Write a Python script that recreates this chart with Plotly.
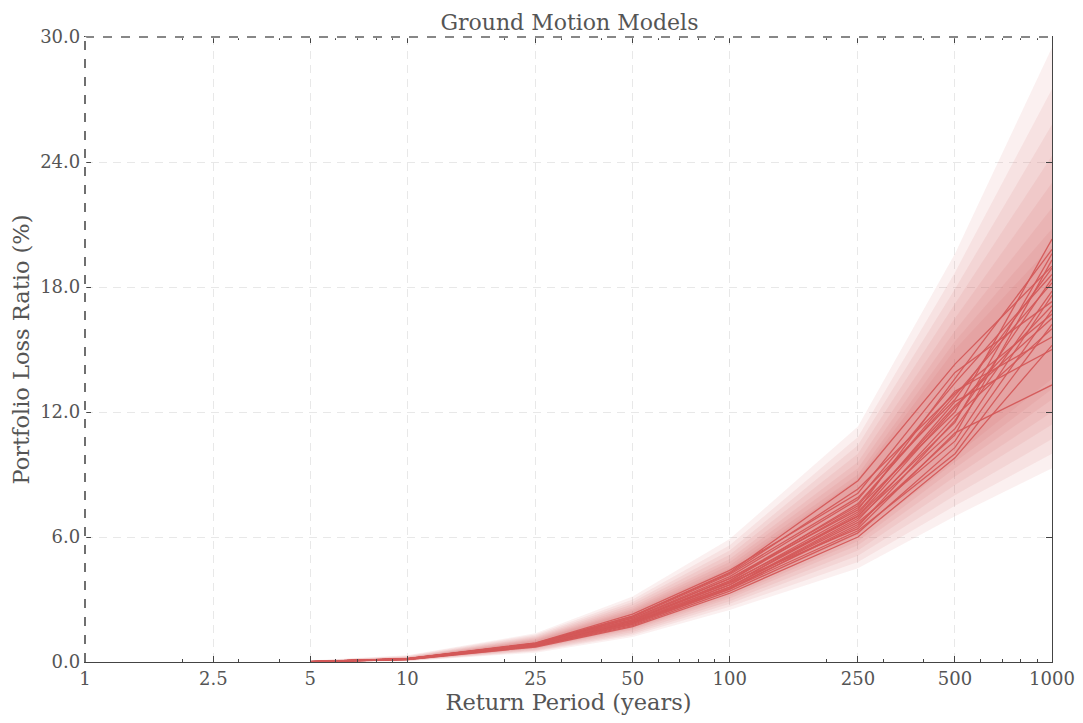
import plotly.graph_objects as go

# Return periods (years)
return_periods = [5, 10, 25, 50, 100, 250, 500, 1000]

# Loss ratio curves (%) for each ground motion model
gmm_curves = [
    [0.02, 0.15, 0.85, 2.00, 3.90, 7.4, 12.0, 20.3],
    [0.02, 0.16, 0.90, 2.20, 4.30, 8.7, 14.3, 19.0],
    [0.02, 0.14, 0.80, 1.90, 3.70, 7.0, 11.5, 19.6],
    [0.02, 0.15, 0.88, 2.10, 4.10, 7.8, 13.4, 18.6],
    [0.01, 0.13, 0.78, 1.80, 3.50, 6.6, 10.9, 19.3],
    [0.02, 0.15, 0.86, 2.00, 3.90, 7.6, 12.8, 18.2],
    [0.01, 0.14, 0.82, 1.90, 3.60, 6.9, 11.2, 17.8],
    [0.02, 0.16, 0.92, 2.30, 4.40, 8.1, 13.9, 17.3],
    [0.01, 0.12, 0.75, 1.75, 3.40, 6.2, 10.3, 16.9],
    [0.02, 0.15, 0.85, 2.00, 3.80, 7.2, 12.3, 16.5],
    [0.01, 0.13, 0.78, 1.85, 3.60, 6.8, 11.8, 16.0],
    [0.02, 0.15, 0.87, 2.10, 4.00, 7.5, 13.0, 15.6],
    [0.01, 0.12, 0.72, 1.70, 3.30, 6.0, 9.8, 15.2],
    [0.02, 0.14, 0.83, 1.95, 3.70, 7.1, 12.5, 15.0],
    [0.02, 0.15, 0.84, 2.00, 3.80, 6.4, 11.0, 13.3],
    [0.01, 0.13, 0.80, 1.90, 3.60, 6.7, 10.6, 17.6],
    [0.02, 0.16, 0.88, 2.15, 4.20, 7.9, 12.6, 18.9],
    [0.01, 0.14, 0.80, 1.85, 3.50, 6.3, 10.0, 16.2],
    [0.02, 0.15, 0.86, 2.05, 4.00, 7.3, 13.6, 19.8],
    [0.01, 0.13, 0.79, 1.85, 3.55, 6.5, 11.6, 18.4],
    [0.02, 0.15, 0.84, 2.00, 3.85, 7.0, 12.2, 17.1],
    [0.02, 0.16, 0.89, 2.20, 4.25, 8.3, 12.9, 16.7],
]

# Envelope bands of the sampled curves (low, high), outermost first
band_lows = [
    [0.0, 0.04, 0.45, 1.20, 2.50, 4.50, 7.0, 9.3],
    [0.0, 0.05, 0.50, 1.28, 2.65, 4.80, 7.5, 10.0],
    [0.0, 0.06, 0.54, 1.36, 2.80, 5.10, 8.0, 10.7],
    [0.0, 0.07, 0.58, 1.44, 2.92, 5.35, 8.5, 11.4],
    [0.0, 0.08, 0.62, 1.52, 3.05, 5.60, 8.9, 12.0],
    [0.0, 0.09, 0.66, 1.58, 3.15, 5.80, 9.3, 12.6],
    [0.0, 0.10, 0.69, 1.64, 3.25, 6.00, 9.6, 13.1],
    [0.0, 0.11, 0.72, 1.70, 3.35, 6.10, 9.9, 13.6],
]
band_highs = [
    [0.070, 0.32, 1.38, 3.15, 5.90, 11.3, 19.6, 29.5],
    [0.065, 0.30, 1.32, 3.00, 5.60, 10.8, 18.7, 27.5],
    [0.060, 0.27, 1.26, 2.88, 5.35, 10.4, 17.9, 25.8],
    [0.055, 0.25, 1.20, 2.77, 5.15, 10.0, 17.2, 24.3],
    [0.050, 0.23, 1.15, 2.66, 4.95, 9.6, 16.5, 23.0],
    [0.045, 0.21, 1.10, 2.57, 4.80, 9.3, 15.9, 21.8],
    [0.040, 0.20, 1.06, 2.50, 4.65, 9.0, 15.4, 20.8],
    [0.035, 0.19, 1.02, 2.42, 4.50, 8.8, 15.0, 20.0],
]

x_ticks = [1, 2.5, 5, 10, 25, 50, 100, 250, 500, 1000]
x_ticktext = ["1", "2.5", "5", "10", "25", "50", "100", "250", "500", "1000"]
y_ticks = [0, 6, 12, 18, 24, 30]

minor_x = [2, 3, 4, 6, 7, 8, 9, 20, 30, 40, 60, 70, 80, 90, 200, 300, 400, 600, 700, 800, 900]

fig = go.Figure()

for lo, hi in zip(band_lows, band_highs):
    fig.add_trace(go.Scatter(x=return_periods, y=lo, mode="lines",
                             line=dict(width=0), hoverinfo="skip", showlegend=False))
    fig.add_trace(go.Scatter(x=return_periods, y=hi, mode="lines",
                             line=dict(width=0), fill="tonexty",
                             fillcolor="rgba(214,92,92,0.09)",
                             hoverinfo="skip", showlegend=False))

for c in gmm_curves:
    fig.add_trace(go.Scatter(x=return_periods, y=c, mode="lines",
                             line=dict(color="rgba(212,88,88,0.95)", width=1.3),
                             showlegend=False))

font_family = "DejaVu Serif"
# The page body has an 8px margin; size the figure so the plot lands where the reference has it.
fig.update_layout(
    width=1067, height=707,
    paper_bgcolor="white", plot_bgcolor="white",
    margin=dict(l=77, r=23, t=29, b=53, autoexpand=False),
    font=dict(family=font_family, color="#555555", size=18),
    title=dict(text="Ground Motion Models", x=0.5262, xanchor="center",
               y=0.980, yanchor="middle", yref="container",
               font=dict(size=22, color="#555555")),
)
fig.update_xaxes(
    type="log", range=[0, 3], automargin=False,
    tickvals=x_ticks, ticktext=x_ticktext,
    ticks="inside", ticklen=6, tickcolor="#444444",
    showline=True, linecolor="#444444", linewidth=1.3, mirror="ticks",
    showgrid=True, gridcolor="#e8e8e8", griddash="8px,6px", gridwidth=1.2,
    minor=dict(tickvals=minor_x, ticks="inside", ticklen=3, tickcolor="#444444", showgrid=False),
    title=dict(text="Return Period (years)", font=dict(size=22.5, color="#555555"), standoff=8),
    tickfont=dict(size=18, color="#555555"),
    zeroline=False,
)
fig.update_yaxes(
    range=[0, 30], tickvals=y_ticks, tickformat=".1f", automargin=False,
    ticks="inside", ticklen=6, tickcolor="#444444",
    showline=True, linecolor="#444444", linewidth=1.3, mirror="ticks",
    showgrid=True, gridcolor="#e8e8e8", griddash="8px,6px", gridwidth=1.2,
    title=dict(text="Portfolio Loss Ratio (%)", font=dict(size=22.5, color="#555555"), standoff=4),
    tickfont=dict(size=18, color="#555555"),
    zeroline=False,
)

# Dashed top and left borders
for x0, y0, x1, y1 in [(0, 1, 1, 1), (0, 0, 0, 1)]:
    fig.add_shape(type="line", xref="x domain", yref="y domain",
                  x0=x0, y0=y0, x1=x1, y1=y1,
                  line=dict(color="white", width=2.5), layer="above")
    fig.add_shape(type="line", xref="x domain", yref="y domain",
                  x0=x0, y0=y0, x1=x1, y1=y1,
                  line=dict(color="#111111", width=1.2, dash="dash"), layer="above")

fig.write_html("out.html")
